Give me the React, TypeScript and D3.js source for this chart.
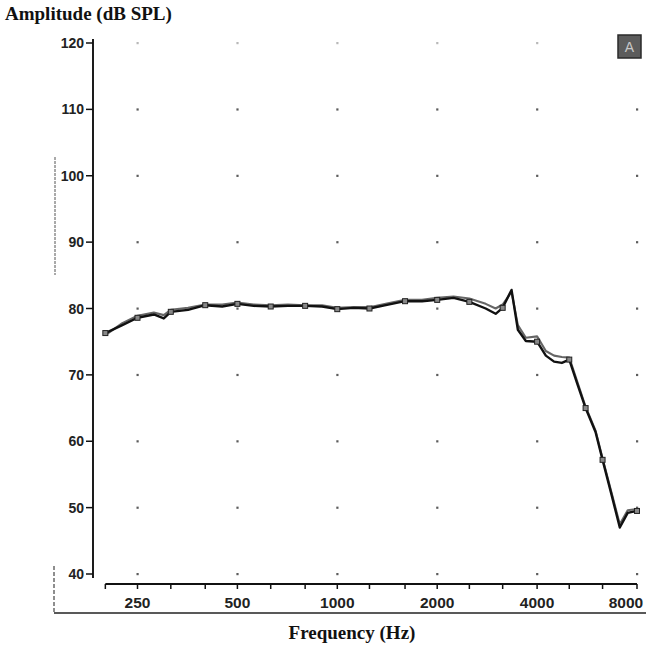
import React from "react";
import * as d3 from "d3";

// frequency response, two overlaid measurements
const freqs = [200, 225, 250, 280, 300, 315, 355, 400, 450, 500, 560, 630, 710, 800, 900, 1000, 1120, 1250, 1400, 1600, 1800, 2000, 2240, 2500, 2800, 3000, 3150, 3350, 3500, 3700, 4000, 4250, 4500, 4750, 5000, 5300, 5600, 6000, 6300, 6700, 7100, 7500, 8000];
const levelA = [76.3, 77.5, 78.6, 79.1, 78.5, 79.5, 79.8, 80.5, 80.3, 80.7, 80.4, 80.3, 80.4, 80.4, 80.3, 79.9, 80.1, 80.0, 80.5, 81.1, 81.1, 81.3, 81.6, 81.0, 80.0, 79.2, 80.1, 82.8, 76.8, 75.1, 75.0, 72.9, 72.0, 71.8, 72.3, 68.5, 65.0, 61.4, 57.2, 52.0, 47.0, 49.2, 49.5];
const levelB = [76.0, 77.8, 78.9, 79.4, 79.0, 79.8, 80.1, 80.6, 80.6, 80.9, 80.6, 80.5, 80.6, 80.5, 80.5, 80.1, 80.2, 80.2, 80.7, 81.3, 81.3, 81.6, 81.8, 81.5, 80.7, 80.0, 80.6, 82.5, 77.5, 75.6, 75.8, 73.6, 72.9, 72.7, 72.6, 68.8, 65.2, 61.6, 57.4, 52.3, 47.5, 49.6, 49.8];
const markerFreqs = [200, 250, 315, 400, 500, 630, 800, 1000, 1250, 1600, 2000, 2500, 3150, 4000, 5000, 5600, 6300, 8000];

const yTicks = [40, 50, 60, 70, 80, 90, 100, 110, 120];
const xMinorTicks = [200, 250, 315, 400, 500, 630, 800, 1000, 1250, 1600, 2000, 2500, 3150, 4000, 5000, 6300, 8000];
const xLabels = [250, 500, 1000, 2000, 4000, 8000];

const W = 646;
const H = 645;

const App = () => {
    const x = d3.scaleLog().domain([250, 8000]).range([137.5, 637]);
    const y = d3.scaleLinear().domain([40, 120]).range([574, 43]);

    const line = d3
        .line<number>()
        .x((d, i) => x(freqs[i]))
        .y(d => y(d));

    const markers = markerFreqs.map(f => {
        const i = freqs.indexOf(f);
        return { f, v: levelA[i] };
    });

    const tickFont = "'Liberation Sans', Arial, sans-serif";
    const titleFont = "'Liberation Serif', 'Times New Roman', serif";

    return (
        <svg
            width={W}
            height={H}
            style={{ position: "absolute", left: 0, top: 0, background: "#fff" }}
        >
            <text x={5} y={20} fontFamily={titleFont} fontWeight="bold" fontSize={19} fill="#111">
                Amplitude (dB SPL)
            </text>

            {/* grid dots */}
            {yTicks.map(t =>
                xLabels.map(f => (
                    <rect key={`${t}-${f}`} x={x(f) - 1} y={y(t) - 1} width={2.2} height={2.2} fill="#333" opacity={t === 120 ? 0.35 : 0.8} />
                ))
            )}

            {/* y axis */}
            <line x1={93} x2={93} y1={y(120) - 4} y2={y(40) + 4} stroke="#111" strokeWidth={1.9} />
            {yTicks.map(t => (
                <g key={t}>
                    <line x1={86} x2={93} y1={y(t)} y2={y(t)} stroke="#111" strokeWidth={1.5} />
                    <text x={84} y={y(t)} dy="0.36em" textAnchor="end" fontFamily={tickFont} fontWeight="bold" fontSize={14} fill="#222">
                        {t}
                    </text>
                </g>
            ))}

            {/* scan border bits */}
            <line x1={55} x2={55} y1={157} y2={275} stroke="#555" strokeWidth={1} strokeDasharray="3 1" />
            <line x1={54} x2={54} y1={566} y2={613} stroke="#444" strokeWidth={1.2} strokeDasharray="4 2" />
            <line x1={54} x2={646} y1={613} y2={613} stroke="#222" strokeWidth={1.6} />

            {/* x axis */}
            <line x1={x(200)} x2={x(8000)} y1={584} y2={584} stroke="#111" strokeWidth={1.9} />
            {xMinorTicks.map(f => (
                <line key={f} x1={x(f)} x2={x(f)} y1={584} y2={589} stroke="#111" strokeWidth={1.5} />
            ))}
            {xLabels.map((f, i) => (
                <text
                    key={f}
                    x={i === xLabels.length - 1 ? x(f) - 11 : x(f)}
                    y={608}
                    textAnchor="middle"
                    fontFamily={tickFont}
                    fontWeight="bold"
                    fontSize={15.5}
                    fill="#222"
                >
                    {f}
                </text>
            ))}
            <text x={352} y={639} textAnchor="middle" fontFamily={titleFont} fontWeight="bold" fontSize={19} fill="#111">
                Frequency (Hz)
            </text>

            {/* curves */}
            <path d={line(levelB) || ""} fill="none" stroke="#666" strokeWidth={2.1} strokeLinejoin="round" />
            <path d={line(levelA) || ""} fill="none" stroke="#111" strokeWidth={2.4} strokeLinejoin="round" />
            {markers.map(m => (
                <rect key={m.f} x={x(m.f) - 2.5} y={y(m.v) - 2.5} width={5} height={5} fill="#888" stroke="#222" strokeWidth={1} />
            ))}

            {/* panel badge */}
            <rect x={618} y={35} width={23} height={23} fill="#5c5c5c" stroke="#2a2a2a" strokeWidth={1.5} />
            <text x={629.5} y={47} dy="0.36em" textAnchor="middle" fontFamily={tickFont} fontSize={14} fill="#c8c8c8">
                A
            </text>
        </svg>
    );
};

export default App;
